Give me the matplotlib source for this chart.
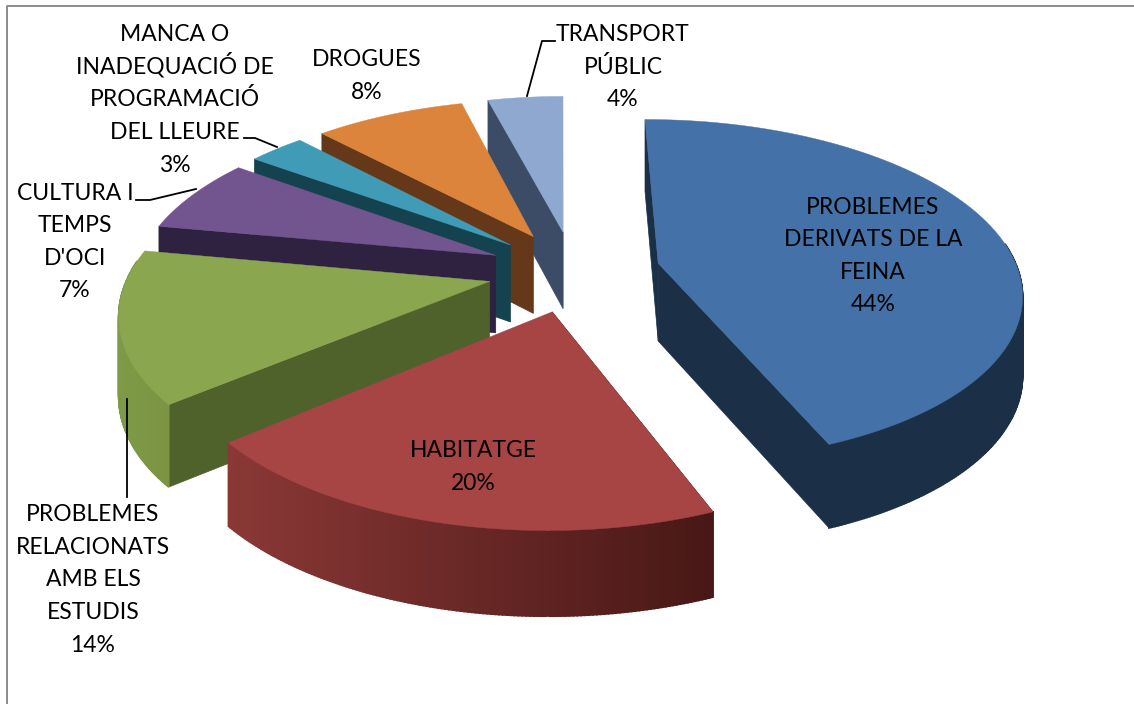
import numpy as np
import matplotlib
matplotlib.use('Agg')
import matplotlib.pyplot as plt
from matplotlib.colors import to_rgb

# Chart data
categories = ['PROBLEMES\nDERIVATS DE LA\nFEINA', 'HABITATGE', 'PROBLEMES\nRELACIONATS\nAMB ELS\nESTUDIS',
              "CULTURA I\nTEMPS\nD'OCI", 'MANCA O\nINADEQUACIÓ DE\nPROGRAMACIÓ\nDEL LLEURE', 'DROGUES',
              'TRANSPORT\nPÚBLIC']
values = [44, 20, 14, 7, 3, 8, 4]
top_colors = ['#4471a7', '#a64543', '#8aa64e', '#72558f', '#3f9bb6', '#dc843b', '#8fa8d0']
wall_colors = ['#1b2f47', '#3f1513', '#4f622c', '#2f2140', '#15424f', '#66381a', '#3c4c66']
rim_left = ['#1b2f47', '#8a3836', '#7f9a47', '#2f2140', '#15424f', '#66381a', '#3c4c66']
rim_right = ['#1b2f47', '#481816', '#7a9443', '#2f2140', '#15424f', '#66381a', '#3c4c66']
label_xy = [(873, 254), (473, 465), (93, 578), (75, 240), (175, 98), (367, 74), (623, 65)]
leaders = [None, None,
           [(127, 399), (127, 497)],
           [(196, 189), (150, 200), (136, 200)],
           [(277, 147), (255, 138), (244, 138)],
           None,
           [(527, 96), (542, 41), (555, 41)]]

# Camera settings, in pixels of the saved picture
cx, cy = 574, 271
R = 360
k = 169
persp = 0.16
height = 78
explode = 0.24
start = -0.3
line_step = 32.6


def project(X, Y, Z=0.0):
    s = 1 / (1 + persp * Y)
    sx = cx + X * R * s
    sy = cy - Y * k * s + Z * height * (1 - 0.08 * Y)
    return sx, sy


fig = plt.figure(figsize=(11.34, 7.04), dpi=100)
ax = fig.add_axes([0, 0, 1, 1])
ax.set_xlim(0, 1134)
ax.set_ylim(704, 0)
ax.axis('off')

# Chart frame
ax.plot([6.5, 6.5, 1134], [704, 5.5, 5.5], color='#8c8c8c', lw=1.4)

edges = start + np.cumsum([0] + values) * 3.6
slices = []
for i in range(len(values)):
    a0, a1 = np.radians(edges[i]), np.radians(edges[i + 1])
    mid = (a0 + a1) / 2
    ox, oy = explode * np.sin(mid), explode * np.cos(mid)
    slices.append((oy, i, a0, a1, ox))

# Far slices first, so the near ones cover them
for oy, i, a0, a1, ox in sorted(slices, reverse=True):
    t = np.linspace(a0, a1, max(int(np.degrees(a1 - a0)), 8) * 2)
    X = ox + np.sin(t)
    Y = oy + np.cos(t)
    # the end wall turns away from the camera past the top of the pie
    walls = [a0, a1] if np.sin(a1) > 0.05 else [a0]
    for a in walls:
        px = np.array([ox, ox + np.sin(a)])
        py = np.array([oy, oy + np.cos(a)])
        x0, y0 = project(px, py, 0)
        x1, y1 = project(px, py, 1)
        ax.fill(np.r_[x0, x1[::-1]], np.r_[y0, y1[::-1]], color=wall_colors[i], lw=0.5, zorder=3)
    # rim, only where it faces the camera
    xt, yt = project(X, Y, 0)
    xb, yb = project(X, Y, 1)
    left, right = np.array(to_rgb(rim_left[i])), np.array(to_rgb(rim_right[i]))
    span = max(xt.max() - xt.min(), 1)
    for j in range(len(t) - 1):
        if np.cos(t[j]) > 0.12:
            continue
        f = (xt[j] - xt.min()) / span
        ax.fill([xt[j], xt[j + 1], xb[j + 1], xb[j]], [yt[j], yt[j + 1], yb[j + 1], yb[j]],
                color=left + (right - left) * f, lw=1.2, zorder=3)
    # top face
    sx, sy = project(np.r_[ox, X], np.r_[oy, Y], 0)
    ax.fill(sx, sy, color=top_colors[i], lw=0.3, zorder=3)

# Labels and leader lines, one text per line so accents keep the spacing even
for i in range(len(values)):
    lines = categories[i].split('\n') + [f'{values[i]}%']
    for j, line in enumerate(lines):
        y = label_xy[i][1] + (j - (len(lines) - 1) / 2) * line_step + 8.5
        ax.text(label_xy[i][0], y, line, ha='center', va='baseline', family='Lato',
                fontsize=16.5, color='black', zorder=5)
    if leaders[i] is not None:
        ax.plot(*zip(*leaders[i]), color='black', lw=1.3, zorder=4)

fig.savefig('out.png', dpi=100)
